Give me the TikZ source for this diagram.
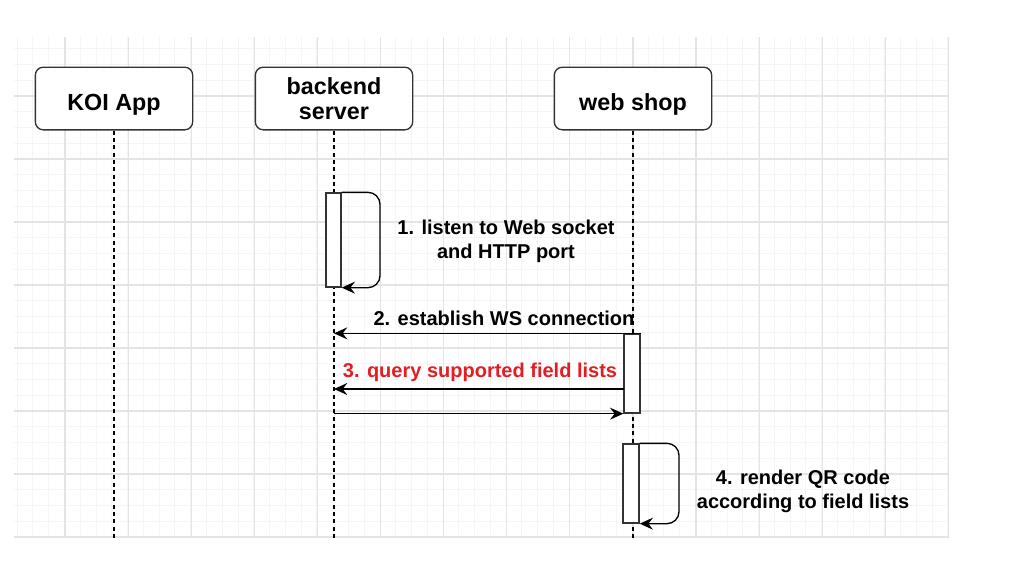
\documentclass[tikz,border=0pt]{standalone}
\usepackage{fontspec}
\setmainfont{Liberation Sans}
\usepackage{xcolor}
\usepackage{tikz}
\usetikzlibrary{arrows.meta, positioning, calc}

\definecolor{gridmajor}{RGB}{228,228,228}
\definecolor{gridminor}{RGB}{245,245,245}
\definecolor{boxline}{RGB}{51,51,51}
\definecolor{queryred}{RGB}{226,30,36}

\begin{document}
\begin{tikzpicture}[x=0.75pt, y=-0.75pt,
    font=\bfseries\fontsize{15}{18}\selectfont,
    actor/.style={draw=boxline, line width=1pt, rounded corners=6pt, fill=white,
        minimum width=118pt, minimum height=47pt, align=center, text depth=0pt,
        font=\bfseries\fontsize{17.5}{18.8}\selectfont},
    oneline/.style={text height=18pt},
    lifeline/.style={black, line width=1.1pt, dash pattern=on 3pt off 2.5pt},
    activation/.style={draw=boxline, line width=1pt, fill=white, inner sep=0pt},
    msg/.style={black, line width=1pt, -{Stealth[length=10pt, width=9pt, inset=3.5pt]}},
    selfcall/.style={msg, rounded corners=9pt}]

    % background grid
    \fill[white] (0,0) rectangle (1017,568);
    \begin{scope}
        \clip (14,37) rectangle (949,538);
        \foreach \gx in {1.25,17.025,...,949} \draw[gridminor, line width=0.5pt] (\gx,37) -- (\gx,538);
        \foreach \gy in {33,48.75,...,538} \draw[gridminor, line width=0.5pt] (14,\gy) -- (949,\gy);
        \foreach \gx in {65,128.1,...,949} \draw[gridmajor, line width=0.9pt] (\gx,37) -- (\gx,538);
        \foreach \gy in {96,159,...,538} \draw[gridmajor, line width=0.9pt] (14,\gy) -- (949,\gy);
    \end{scope}

    % participants
    \node[actor, oneline] (koi) at (114,98.5) {KOI App};
    \node[actor] (backend) at (334,98.5) {backend\\server};
    \node[actor, oneline] (shop) at (633,98.5) {web shop};

    \coordinate (koiend) at (114,538);
    \coordinate (backendend) at (334,538);
    \coordinate (shopend) at (633,538);
    \draw[lifeline] (koi) -- (koiend);
    \draw[lifeline] (backend) -- (backendend);
    \draw[lifeline] (shop) -- (shopend);

    % step 1: self call on backend
    \node[activation, minimum width=11.25pt, minimum height=70.5pt] (listen) at (333.5,240) {};
    \coordinate (listenturn) at (380,240);
    \draw[selfcall] (listen.north east) -- (listenturn |- listen.north east) -- (listenturn |- listen.south east) -- (listen.south east);
    \node[align=center] (listenlabel) at (506,241) {1. listen to Web socket\\and HTTP port};

    % steps 2 and 3: web shop talks to backend
    \node[activation, minimum width=12pt, minimum height=59.25pt] (connect) at (632,373.5) {};
    \draw[msg] (connect.north east) -- (connect.north east -| backend);
    \node (connectlabel) at (504,318) {2. establish WS connection};

    \coordinate (query) at (624,389);
    \draw[msg] (query) -- (query -| backend);
    \node[queryred] (querylabel) at (480,372) {3. query supported field lists};

    \draw[msg] (connect.south west -| backend) -- (connect.south west);

    % step 4: self call on web shop
    \node[activation, minimum width=12pt, minimum height=59.25pt] (render) at (631,483.5) {};
    \coordinate (renderturn) at (679,483.5);
    \draw[selfcall] (render.north east) -- (renderturn |- render.north east) -- (renderturn |- render.south east) -- (render.south east);
    \node[align=center] (renderlabel) at (803,491) {4. render QR code\\according to field lists};

    \useasboundingbox (0,0) rectangle (1017,568);
\end{tikzpicture}
\end{document}
